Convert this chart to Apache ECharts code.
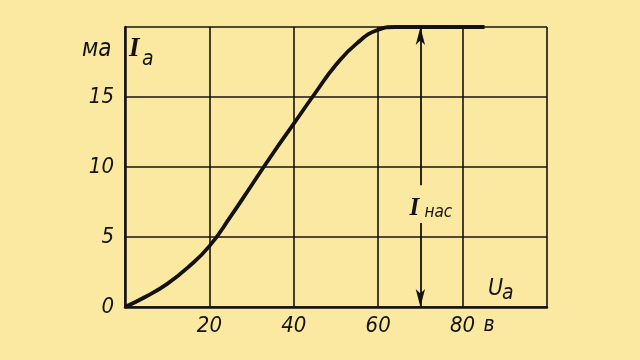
<!DOCTYPE html>
<html>
<head>
<meta charset="utf-8">
<script src="https://cdn.jsdelivr.net/npm/echarts@6/dist/echarts.min.js"></script>
<style>
html,body{margin:0;padding:0;background:#fce9a1;}
#c{width:640px;height:360px;}
</style>
</head>
<body>
<div id="c"></div>
<script>
// Anode voltage (V) and anode current (mA)
const voltage = [0, 5, 10, 15, 20, 25, 30, 35, 40, 45, 50, 55, 60, 64, 70, 85.2];
const current = [0, 0.75, 1.65, 2.85, 4.35, 6.45, 8.7, 10.95, 13.1, 15.25, 17.3, 18.85, 19.8, 20, 20, 20];
const xTicks = [20, 40, 60, 80];
const yTicks = [0, 5, 10, 15];
const saturationVoltage = 70;
const saturationCurrent = 20;

const INK = '#141210';
const NARROW = '"Liberation Sans Narrow","DejaVu Sans Condensed","Open Sans",sans-serif';
const SERIF = '"Liberation Serif","DejaVu Serif",serif';

const chart = echarts.init(document.getElementById('c'));
const option = {
  backgroundColor: '#fce9a1',
  animation: false,
  grid: {left: 125, right: 93, top: 27, bottom: 53},
  xAxis: {
    type: 'value', min: 0, max: 100, interval: 20,
    axisLine: {lineStyle: {color: INK, width: 2.5}},
    axisTick: {show: false},
    splitLine: {show: true, lineStyle: {color: INK, width: 1.6}},
    axisLabel: {
      color: INK, fontSize: 22, fontStyle: 'italic', fontWeight: 500, fontFamily: NARROW, margin: 8,
      formatter: v => xTicks.includes(v) ? String(v) : ''
    }
  },
  yAxis: {
    type: 'value', min: 0, max: 20, interval: 5,
    axisLine: {show: true, lineStyle: {color: INK, width: 2.5}},
    axisTick: {show: false},
    splitLine: {show: true, lineStyle: {color: INK, width: 1.6}},
    axisLabel: {
      color: INK, fontSize: 22, fontStyle: 'italic', fontWeight: 500, fontFamily: NARROW, margin: 11,
      formatter: v => yTicks.includes(v) ? String(v) : ''
    }
  },
  series: [{
    type: 'line',
    data: voltage.map((v, i) => [v, current[i]]),
    smooth: 0.5,
    showSymbol: false,
    lineStyle: {color: INK, width: 3.8},
    markLine: {
      silent: true,
      lineStyle: {color: INK, width: 1.8, type: 'solid'},
      label: {show: false},
      symbolSize: [7, 18],
      data: [
        [{coord: [saturationVoltage, saturationCurrent], symbol: 'arrow'},
         {coord: [saturationVoltage, 8.7], symbol: 'none'}],
        [{coord: [saturationVoltage, 6.0], symbol: 'none'},
         {coord: [saturationVoltage, 0], symbol: 'arrow'}]
      ]
    }
  }]
};
chart.setOption(option);

const p = (x, y) => chart.convertToPixel({gridIndex: 0}, [x, y]);
const lbl = p(saturationVoltage, 7.35);
const lblV = p(80, 0);
const gr = [
  // y-axis unit and symbol
  {type: 'text', left: 82, top: 38, style: {text: 'ма', font: 'italic 500 24px ' + NARROW, fill: INK}},
  {type: 'text', left: 129, top: 36, style: {text: 'I', font: 'italic bold 27px ' + SERIF, fill: INK}},
  {type: 'text', left: 142, top: 49, style: {text: 'а', font: 'italic 500 21px ' + NARROW, fill: INK}},
  // x-axis unit and symbol
  {type: 'text', left: lblV[0] + 21, top: lblV[1] + 8, style: {text: 'в', font: 'italic 500 21px ' + NARROW, fill: INK}},
  {type: 'text', left: 488, top: 278, style: {text: 'U', font: 'italic 500 23px ' + NARROW, fill: INK}},
  {type: 'text', left: 502, top: 283, style: {text: 'а', font: 'italic 500 21px ' + NARROW, fill: INK}},
  // saturation current label
  {type: 'text', left: lbl[0] - 11, top: lbl[1] - 8, style: {text: 'I', font: 'italic bold 25px ' + SERIF, fill: INK}},
  {type: 'text', left: lbl[0] + 4, top: lbl[1] + 0, style: {text: 'нас', font: 'italic 500 17px ' + NARROW, fill: INK}}
];
chart.setOption({graphic: gr});
</script>
</body>
</html>
